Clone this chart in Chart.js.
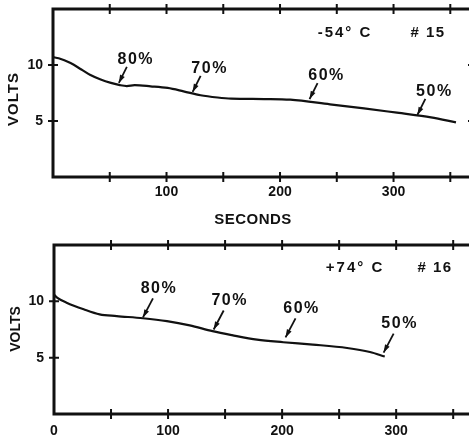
<!DOCTYPE html>
<html lang="en">
<head>
<meta charset="UTF-8">
<title>Discharge curves</title>
<script src="https://cdn.jsdelivr.net/npm/chart.js"></script>
<style>
  html, body { margin: 0; padding: 0; background: #fff; overflow: hidden; }
  body { width: 469px; height: 439px; position: relative; }
  canvas { position: absolute; left: 0; }
  #topChart { top: 0; }
  #bottomChart { top: 236px; }
</style>
</head>
<body>
<canvas id="topChart" width="478" height="225"></canvas>
<canvas id="bottomChart" width="481" height="203"></canvas>

<script>
// -54 C, cell #15
const topSeconds = [0, 5, 15, 25, 33, 42, 51, 59, 65, 72, 86, 101, 115, 130, 145, 157, 186, 209, 244, 274, 303, 333, 355];
const topVolts   = [10.7, 10.6, 10.2, 9.6, 9.1, 8.7, 8.4, 8.2, 8.12, 8.2, 8.1, 7.95, 7.65, 7.3, 7.1, 7.0, 6.96, 6.9, 6.49, 6.13, 5.74, 5.33, 4.88];

// +74 C, cell #16
const bottomSeconds = [0, 3, 11, 26, 40, 55, 78, 99, 119, 139, 156, 178, 201, 227, 257, 277, 290];
const bottomVolts   = [10.6, 10.3, 9.88, 9.29, 8.84, 8.69, 8.5, 8.24, 7.86, 7.35, 7.0, 6.6, 6.37, 6.16, 5.86, 5.5, 5.1];

// remaining-capacity marks (where each arrow points)
const markLabels = ['80%', '70%', '60%', '50%'];
const topMarkSeconds = [58, 123, 226, 321];
const topMarkVolts   = [8.4, 7.6, 6.96, 5.54];
const bottomMarkSeconds = [78, 140, 203, 289];
const bottomMarkVolts   = [8.57, 7.5, 6.8, 5.45];

const temps = ['-54° C', '+74° C'];
const cells = ['# 15', '# 16'];
const yLabelled = [5, 10];
const xMarks = [50, 100, 150, 200, 250, 300, 350];

const INK = '#111';
const FONT = '"Liberation Sans", Arial, sans-serif';

function drawArrow(ctx, fx, fy, tx, ty) {
  ctx.beginPath();
  ctx.moveTo(fx, fy);
  ctx.lineTo(tx, ty);
  ctx.stroke();
  const a = Math.atan2(ty - fy, tx - fx);
  const len = 8, w = 2.6;
  ctx.beginPath();
  ctx.moveTo(tx, ty);
  ctx.lineTo(tx - len * Math.cos(a) + w * Math.sin(a), ty - len * Math.sin(a) - w * Math.cos(a));
  ctx.lineTo(tx - len * Math.cos(a) - w * Math.sin(a), ty - len * Math.sin(a) + w * Math.cos(a));
  ctx.closePath();
  ctx.fill();
}

function text(ctx, str, x, y, size, spacing, rot) {
  ctx.save();
  ctx.font = 'bold ' + size + 'px ' + FONT;
  ctx.letterSpacing = spacing + 'px';
  ctx.textAlign = 'center';
  ctx.textBaseline = 'middle';
  ctx.translate(x, y);
  if (rot) ctx.rotate(rot);
  ctx.fillText(str, 0, 0);
  ctx.restore();
}

// frame, crossing ticks, arrows and lettering
const framePlugin = {
  id: 'frame',
  afterDraw(chart, args, o) {
    const { ctx, chartArea: ca, scales: { x, y } } = chart;
    ctx.save();
    ctx.strokeStyle = INK;
    ctx.fillStyle = INK;
    ctx.lineWidth = 3;
    ctx.strokeRect(ca.left, ca.top, ca.right - ca.left, ca.bottom - ca.top);

    ctx.lineWidth = 2;
    xMarks.forEach(v => {
      const px = x.getPixelForValue(v);
      ctx.beginPath();
      ctx.moveTo(px, ca.top - 5); ctx.lineTo(px, ca.top + 5);
      ctx.moveTo(px, ca.bottom - 5); ctx.lineTo(px, ca.bottom + 5);
      ctx.stroke();
    });
    yLabelled.forEach(v => {
      const py = y.getPixelForValue(v);
      ctx.beginPath();
      ctx.moveTo(ca.left - 5, py); ctx.lineTo(ca.left + 5, py);
      ctx.moveTo(ca.right - 5, py); ctx.lineTo(ca.right + 5, py);
      ctx.stroke();
    });

    // capacity arrows
    ctx.lineWidth = 1.8;
    o.markSeconds.forEach((s, i) => {
      const tx = x.getPixelForValue(s);
      const ty = y.getPixelForValue(o.markVolts[i]);
      drawArrow(ctx, tx + o.tail[0], ty + o.tail[1], tx, ty);
      text(ctx, markLabels[i], tx + o.label[0], ty + o.label[1], 16, 1.5);
    });

    text(ctx, temps[o.idx], o.tempPos[0], o.tempPos[1], 15, 2);
    text(ctx, cells[o.idx], o.cellPos[0], o.cellPos[1], 15, 1.5);
    text(ctx, 'VOLTS', o.voltsPos[0], o.voltsPos[1], o.voltsSize, o.voltsSpacing, -Math.PI / 2);
    if (o.seconds) text(ctx, 'SECONDS', o.seconds[0], o.seconds[1], 15, 0.5);
    ctx.restore();
  }
};

function makeChart(id, secs, volts, cfg) {
  const points = secs.map((s, i) => ({ x: s, y: volts[i] }));
  return new Chart(document.getElementById(id), {
    type: 'line',
    data: {
      datasets: [{
        data: points,
        borderColor: INK,
        borderWidth: 2.2,
        pointRadius: 0,
        fill: false,
        cubicInterpolationMode: 'monotone'
      }]
    },
    options: {
      responsive: false,
      animation: false,
      events: [],
      layout: { padding: { top: 9, right: 5, left: 0, bottom: 0 } },
      plugins: {
        legend: { display: false },
        tooltip: { enabled: false },
        frame: cfg.frame
      },
      scales: {
        x: {
          type: 'linear',
          min: 0,
          max: 370,
          grid: { display: false, drawTicks: false },
          border: { display: false },
          afterFit: s => {
            s.height = cfg.xHeight;
            s.paddingLeft = 0; s.paddingRight = 0;
          },
          ticks: {
            stepSize: 50,
            autoSkip: false,
            maxRotation: 0,
            padding: cfg.xPad,
            color: INK,
            font: { family: FONT, size: 14, weight: 'bold' },
            callback: v => (v % 100 === 0 && (v > 0 || cfg.showZero)) ? String(v) : ''
          }
        },
        y: {
          min: 0,
          max: 15,
          grid: { display: false, drawTicks: false },
          border: { display: false },
          afterFit: s => {
            s.width = cfg.yWidth;
            s.paddingTop = 0; s.paddingBottom = 0;
          },
          ticks: {
            stepSize: 5,
            padding: 10,
            color: INK,
            font: { family: FONT, size: 14, weight: 'bold' },
            callback: v => yLabelled.includes(v) ? String(v) : ''
          }
        }
      }
    },
    plugins: [framePlugin]
  });
}

makeChart('topChart', topSeconds, topVolts, {
  xHeight: 48, xPad: 7, yWidth: 53, showZero: false,
  frame: {
    idx: 0,
    markSeconds: topMarkSeconds, markVolts: topMarkVolts,
    tail: [8, -16], label: [17, -23],
    tempPos: [345, 33], cellPos: [428, 33],
    voltsPos: [14, 99], voltsSize: 15, voltsSpacing: 1,
    seconds: [253, 220]
  }
});

makeChart('bottomChart', bottomSeconds, bottomVolts, {
  xHeight: 25, xPad: 9, yWidth: 54, showZero: true,
  frame: {
    idx: 1,
    markSeconds: bottomMarkSeconds, markVolts: bottomMarkVolts,
    tail: [10, -19], label: [16, -29],
    tempPos: [355, 32], cellPos: [435, 32],
    voltsPos: [16, 93], voltsSize: 14, voltsSpacing: 0,
    seconds: null
  }
});
</script>
</body>
</html>
